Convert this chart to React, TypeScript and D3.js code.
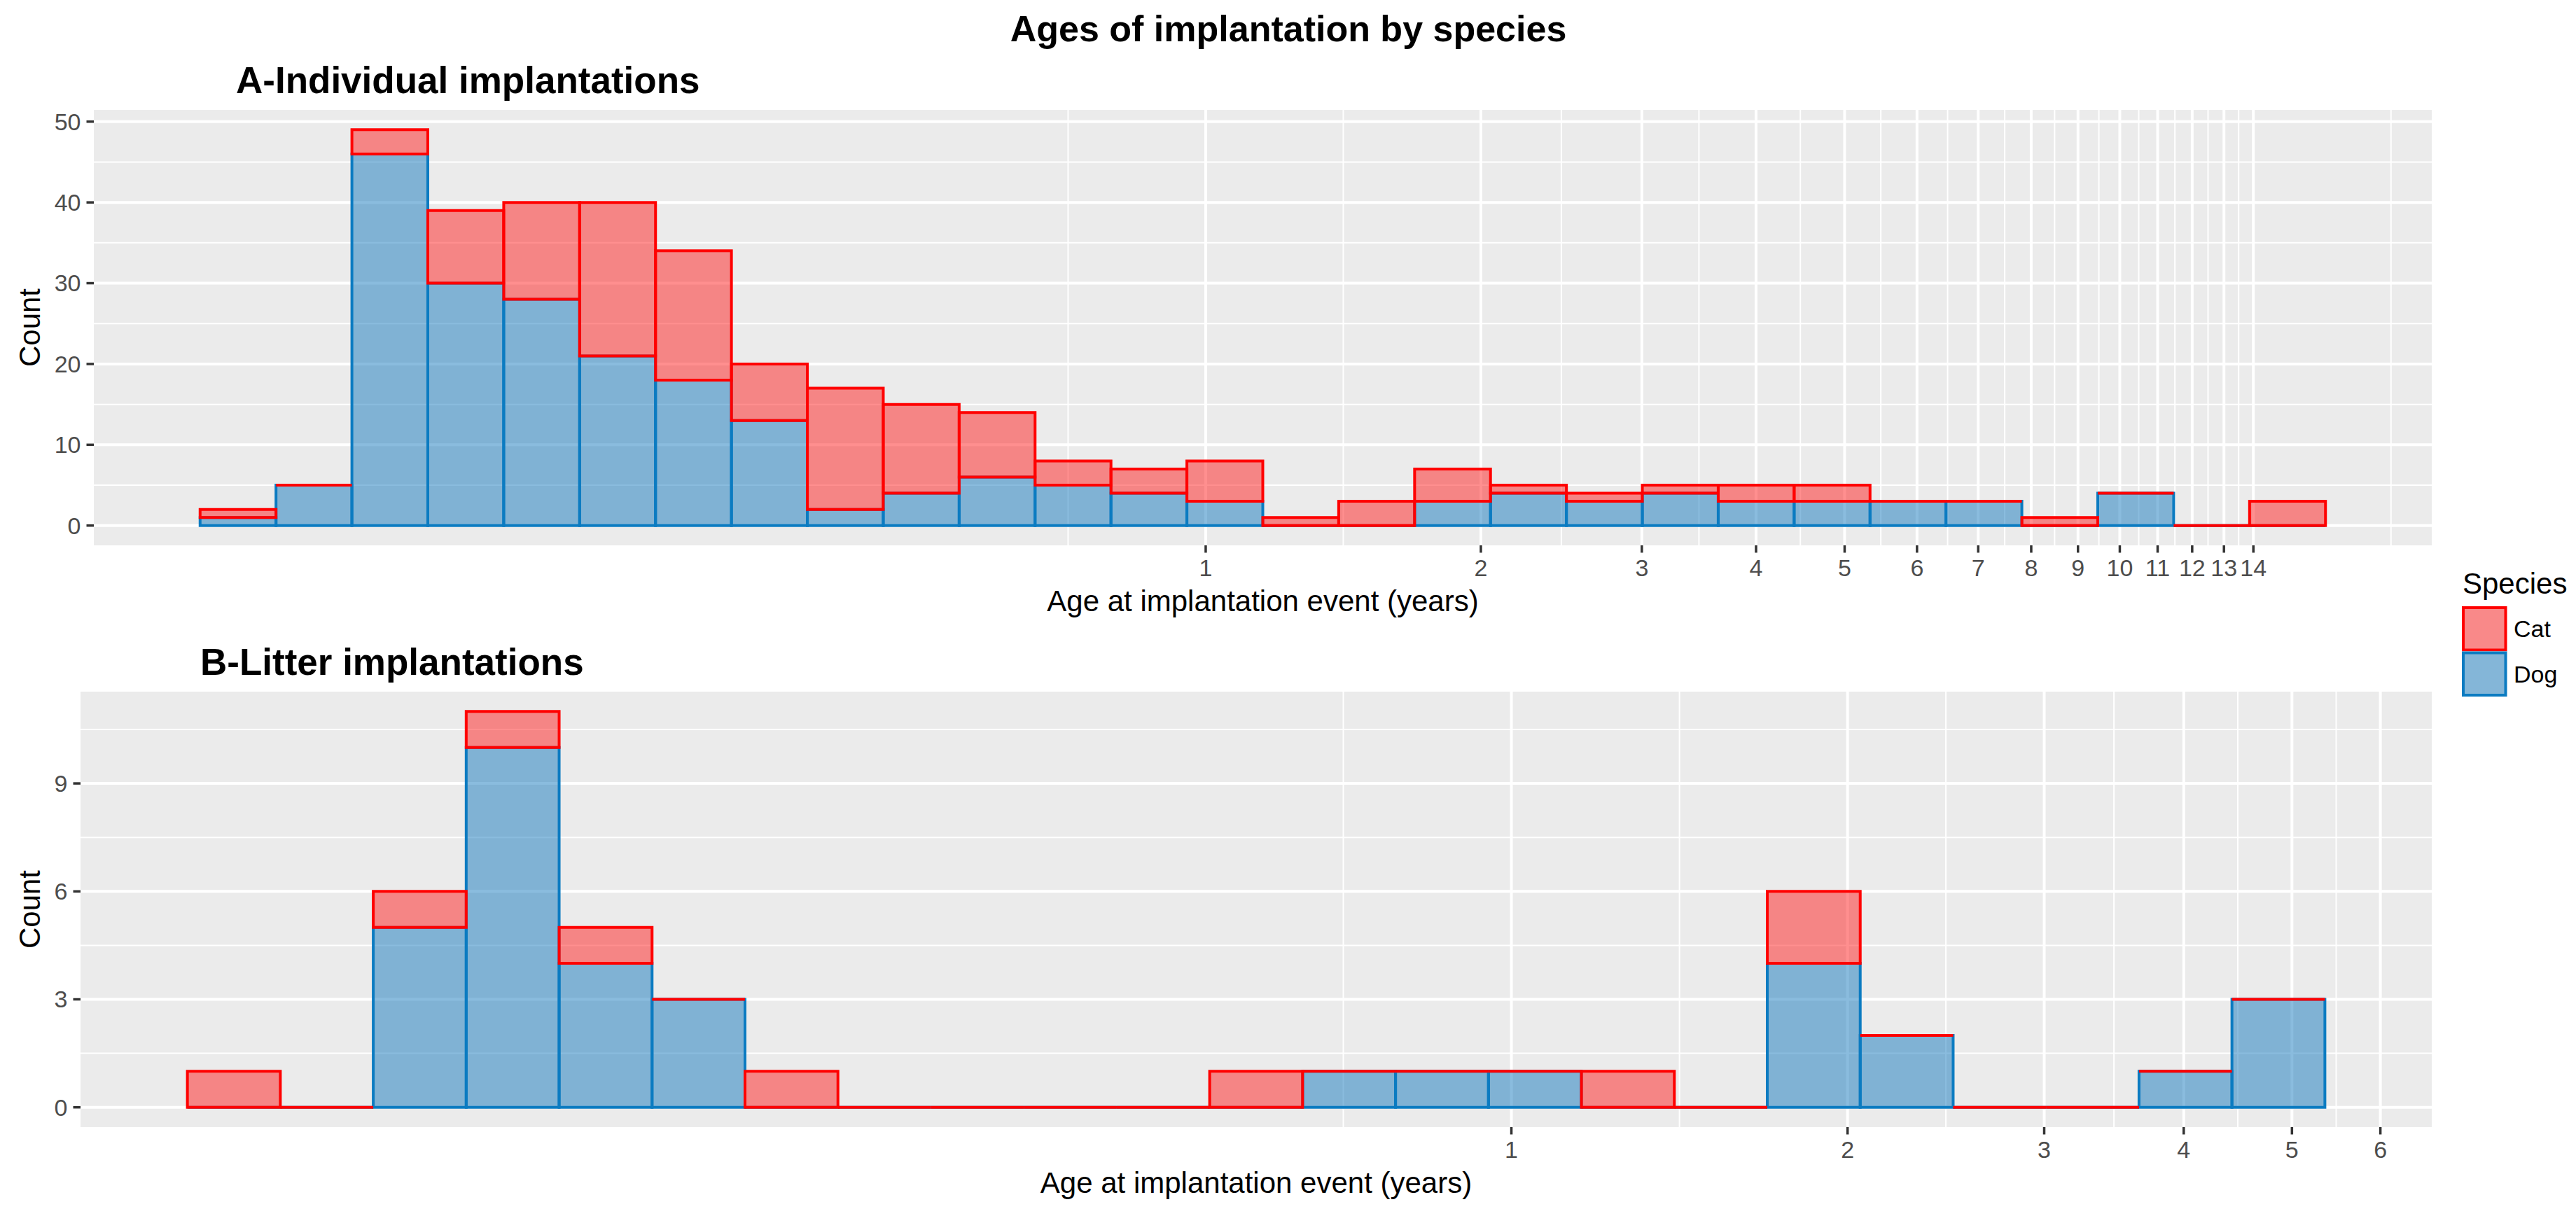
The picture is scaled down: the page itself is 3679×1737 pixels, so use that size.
import * as d3 from "d3";

const WIDTH = 3679;
const HEIGHT = 1737;
const FONT = "'Liberation Sans', Arial, Helvetica, sans-serif";

// ---- data: counts per log-spaced age bin (years) ----
// A - individual implantations, 28 bins
const catA = [1, 0, 3, 9, 12, 19, 16, 7, 15, 11, 8, 3, 3, 5, 1, 3, 4, 1, 1, 1, 2, 2, 0, 0, 1, 0, 0, 3];
const dogA = [1, 5, 46, 30, 28, 21, 18, 13, 2, 4, 6, 5, 4, 3, 0, 0, 3, 4, 3, 4, 3, 3, 3, 3, 0, 4, 0, 0];
const binStartA = -1.1001; // log10(years) of first bin edge
const binWidthA = 0.08304; // bin width in log10(years)
const xBreaksA = [1, 2, 3, 4, 5, 6, 7, 8, 9, 10, 11, 12, 13, 14];
const yBreaksA = [0, 10, 20, 30, 40, 50];

// B - litter implantations, 23 bins
const catB = [1, 0, 1, 1, 1, 0, 1, 0, 0, 0, 0, 1, 0, 0, 0, 1, 0, 2, 0, 0, 0, 0, 0];
const dogB = [0, 0, 5, 10, 4, 3, 0, 0, 0, 0, 0, 0, 1, 1, 1, 0, 0, 4, 2, 0, 0, 1, 3];
const binStartB = -1.1856;
const binWidthB = 0.08322;
const xBreaksB = [1, 2, 3, 4, 5, 6];
const yBreaksB = [0, 3, 6, 9];

const species = ["Cat", "Dog"];
const fillColor: Record<string, string> = { Cat: "#FF1F1F", Dog: "#1579BD" };
const lineColor: Record<string, string> = { Cat: "#FF0000", Dog: "#0B7BC1" };

const PANEL_BG = "#EBEBEB";
const LINE_W = 4;

// ggplot2-style minor breaks: midpoints between majors, extended one step past the ends
function minorBreaks(majors: number[], lo: number, hi: number) {
    const b = majors.slice();
    const bd = b[1] - b[0];
    if (lo < b[0]) b.unshift(b[0] - bd);
    if (hi > b[b.length - 1]) b.push(b[b.length - 1] + bd);
    const out: number[] = [];
    for (let i = 0; i < b.length - 1; i++) out.push((b[i] + b[i + 1]) / 2);
    return out.filter((v) => v >= lo && v <= hi);
}

interface PanelProps {
    cat: number[];
    dog: number[];
    binStart: number;
    binWidth: number;
    xBreaks: number[];
    yBreaks: number[];
    left: number;
    right: number;
    top: number;
    bottom: number;
    title: string;
    titleX: number;
    titleY: number;
}

function Panel(p: PanelProps) {
    const n = p.cat.length;
    const lo = p.binStart;
    const hi = p.binStart + n * p.binWidth;
    const r = hi - lo;
    const dLo = lo - 0.05 * r;
    const dHi = hi + 0.05 * r;
    const xScale = d3
        .scaleLog()
        .domain([Math.pow(10, dLo), Math.pow(10, dHi)])
        .range([p.left, p.right]);

    const totals = p.cat.map((c, i) => c + p.dog[i]);
    const maxY = d3.max(totals) || 0;
    const yLo = -0.05 * maxY;
    const yHi = maxY * 1.05;
    const yScale = d3.scaleLinear().domain([yLo, yHi]).range([p.bottom, p.top]);

    const xMinor = minorBreaks(p.xBreaks.map(Math.log10), dLo, dHi).map((v) => Math.pow(10, v));
    const yMinor = minorBreaks(p.yBreaks, yLo, yHi);

    const edge = (i: number) => xScale(Math.pow(10, lo + i * p.binWidth));
    const rectPath = (x0: number, x1: number, v0: number, v1: number) =>
        `M${x0},${yScale(v0)}H${x1}V${yScale(v1)}H${x0}Z`;

    const tickLen = 10.5;
    const yLabelRight = p.left - tickLen - 8;
    const cy = (p.top + p.bottom) / 2;
    const cx = (p.left + p.right) / 2;

    return (
        <g>
            <text x={p.titleX} y={p.titleY} fontSize={53} fontWeight="bold" fontFamily={FONT} fill="#000">
                {p.title}
            </text>
            <rect x={p.left} y={p.top} width={p.right - p.left} height={p.bottom - p.top} fill={PANEL_BG} />
            {/* minor grid */}
            {yMinor.map((v) => (
                <line key={"ym" + v} x1={p.left} x2={p.right} y1={yScale(v)} y2={yScale(v)} stroke="#fff" strokeWidth={2} />
            ))}
            {xMinor.map((v) => (
                <line key={"xm" + v} x1={xScale(v)} x2={xScale(v)} y1={p.top} y2={p.bottom} stroke="#fff" strokeWidth={2} />
            ))}
            {/* major grid */}
            {p.yBreaks.map((v) => (
                <line key={"y" + v} x1={p.left} x2={p.right} y1={yScale(v)} y2={yScale(v)} stroke="#fff" strokeWidth={LINE_W} />
            ))}
            {p.xBreaks.map((v) => (
                <line key={"x" + v} x1={xScale(v)} x2={xScale(v)} y1={p.top} y2={p.bottom} stroke="#fff" strokeWidth={LINE_W} />
            ))}
            {/* stacked bars: Dog at the bottom, Cat stacked above and drawn last */}
            {p.dog.map((d, i) => (
                <path
                    key={"d" + i}
                    d={rectPath(edge(i), edge(i + 1), 0, d)}
                    fill={fillColor.Dog}
                    fillOpacity={0.5}
                    stroke={lineColor.Dog}
                    strokeWidth={LINE_W}
                    strokeLinejoin="miter"
                />
            ))}
            {p.cat.map((c, i) => (
                <path
                    key={"c" + i}
                    d={rectPath(edge(i), edge(i + 1), p.dog[i], p.dog[i] + c)}
                    fill={fillColor.Cat}
                    fillOpacity={0.5}
                    stroke={lineColor.Cat}
                    strokeWidth={LINE_W}
                    strokeLinejoin="miter"
                />
            ))}
            {/* y axis */}
            {p.yBreaks.map((v) => (
                <g key={"yt" + v}>
                    <line x1={p.left - tickLen} x2={p.left} y1={yScale(v)} y2={yScale(v)} stroke="#333" strokeWidth={3.5} />
                    <text x={yLabelRight} y={yScale(v)} dy="0.35em" textAnchor="end" fontSize={34} fontFamily={FONT} fill="#4D4D4D">
                        {v}
                    </text>
                </g>
            ))}
            {/* x axis */}
            {p.xBreaks.map((v) => (
                <g key={"xt" + v}>
                    <line x1={xScale(v)} x2={xScale(v)} y1={p.bottom} y2={p.bottom + tickLen} stroke="#333" strokeWidth={3.5} />
                    <text x={xScale(v)} y={p.bottom + 44} textAnchor="middle" fontSize={34} fontFamily={FONT} fill="#4D4D4D">
                        {v}
                    </text>
                </g>
            ))}
            <text x={cx} y={p.bottom + 94} textAnchor="middle" fontSize={42} fontFamily={FONT} fill="#000">
                Age at implantation event (years)
            </text>
            <text transform={`translate(57,${cy}) rotate(-90)`} textAnchor="middle" fontSize={42} fontFamily={FONT} fill="#000">
                Count
            </text>
        </g>
    );
}

function Legend() {
    const x = 3516;
    const keyTop = 866;
    const keySize = 64.5;
    return (
        <g>
            <text x={3517} y={848} fontSize={42} fontFamily={FONT} fill="#000">
                Species
            </text>
            {species.map((s, i) => {
                const y = keyTop + i * keySize;
                return (
                    <g key={s}>
                        <rect x={x} y={y} width={keySize} height={keySize} fill="#F2F2F2" />
                        <rect
                            x={x + 2}
                            y={y + 2}
                            width={keySize - 4}
                            height={keySize - 4}
                            fill={fillColor[s]}
                            fillOpacity={0.5}
                            stroke={lineColor[s]}
                            strokeWidth={LINE_W}
                        />
                        <text x={3590} y={y + keySize / 2} dy="0.35em" fontSize={34} fontFamily={FONT} fill="#000">
                            {s}
                        </text>
                    </g>
                );
            })}
        </g>
    );
}

export default function App() {
    return (
        <svg
            width={WIDTH}
            height={HEIGHT}
            style={{ position: "absolute", left: 0, top: 0, display: "block", background: "#fff" }}
        >
            <rect width={WIDTH} height={HEIGHT} fill="#fff" />
            <text x={1840} y={59} textAnchor="middle" fontSize={52} fontWeight="bold" fontFamily={FONT} fill="#000">
                Ages of implantation by species
            </text>
            <Panel
                cat={catA}
                dog={dogA}
                binStart={binStartA}
                binWidth={binWidthA}
                xBreaks={xBreaksA}
                yBreaks={yBreaksA}
                left={134}
                right={3473}
                top={157}
                bottom={779}
                title="A-Individual implantations"
                titleX={337}
                titleY={133}
            />
            <Panel
                cat={catB}
                dog={dogB}
                binStart={binStartB}
                binWidth={binWidthB}
                xBreaks={xBreaksB}
                yBreaks={yBreaksB}
                left={115}
                right={3473}
                top={988}
                bottom={1610}
                title="B-Litter implantations"
                titleX={286}
                titleY={964}
            />
            <Legend />
        </svg>
    );
}
